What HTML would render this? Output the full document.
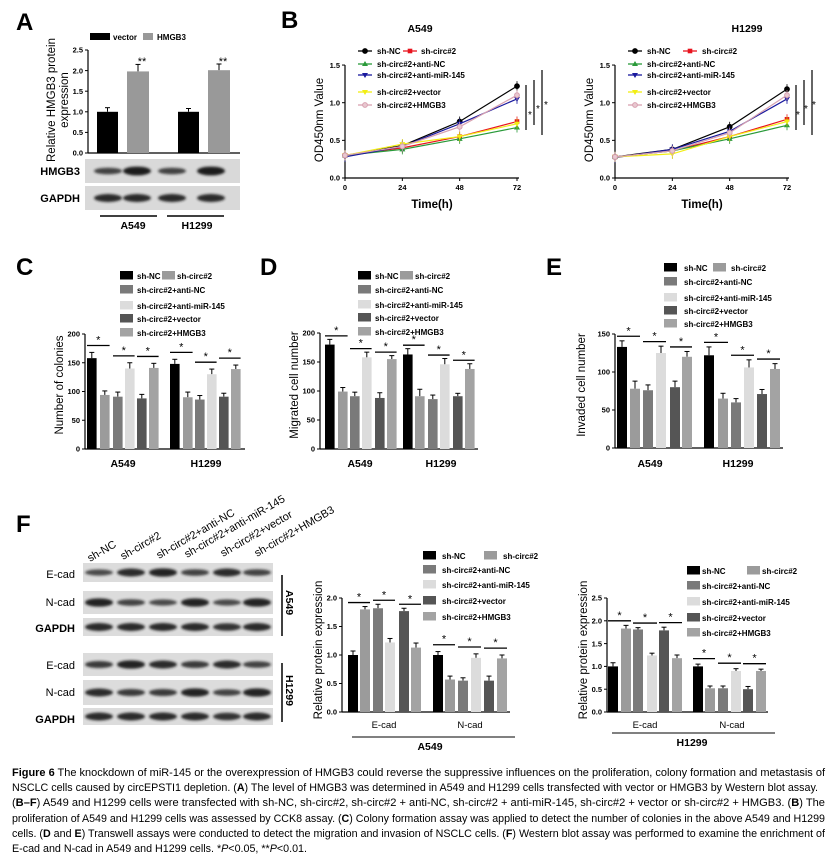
<!DOCTYPE html>
<html><head><meta charset="utf-8"><style>
body{margin:0;background:#fff;width:839px;height:861px;overflow:hidden}
svg{display:block;font-family:"Liberation Sans",Arial,sans-serif}
.lg{font-size:8px;font-weight:bold}
.tk{font-size:7.5px;font-weight:bold}
.at{font-size:11.5px}
.pl{font-size:24px;font-weight:bold}
.cap{font-size:10.6px}
</style></head><body>
<svg id="s" width="839" height="861" viewBox="0 0 839 861" xmlns="http://www.w3.org/2000/svg">
<defs><filter id="bl" x="-20%" y="-50%" width="140%" height="200%"><feGaussianBlur stdDeviation="1.3"/></filter></defs>
<rect width="839" height="861" fill="#fff"/>
<text class="pl" x="16" y="30">A</text>
<text class="pl" x="281" y="28">B</text>
<text class="pl" x="16" y="275">C</text>
<text class="pl" x="260" y="275">D</text>
<text class="pl" x="546" y="275">E</text>
<text class="pl" x="16" y="532">F</text>

<rect x="90" y="33" width="20" height="7" fill="#000"/><text class="lg" x="113" y="40">vector</text>
<rect x="143" y="33" width="10" height="7" fill="#999"/><text class="lg" x="157" y="40">HMGB3</text>
<text class="at" transform="translate(55,100) rotate(-90)" text-anchor="middle">Relative HMGB3 protein</text>
<text class="at" transform="translate(68,100) rotate(-90)" text-anchor="middle">expression</text>
<text x="142" y="65" font-size="11" text-anchor="middle">**</text>
<text x="223" y="65" font-size="11" text-anchor="middle">**</text>
<text x="80" y="175" font-size="11" font-weight="bold" text-anchor="end">HMGB3</text>
<text x="80" y="202" font-size="11" font-weight="bold" text-anchor="end">GAPDH</text>
<line x1="100" y1="216" x2="157" y2="216" stroke="#000" stroke-width="1.5"/>
<line x1="167" y1="216" x2="224" y2="216" stroke="#000" stroke-width="1.5"/>
<text x="133" y="229" font-size="10.5" font-weight="bold" text-anchor="middle">A549</text>
<text x="197" y="229" font-size="10.5" font-weight="bold" text-anchor="middle">H1299</text>

<text x="420" y="32" font-size="10.5" font-weight="bold" text-anchor="middle">A549</text>
<text x="747" y="32" font-size="10.5" font-weight="bold" text-anchor="middle">H1299</text>
<text class="at" transform="translate(323,120) rotate(-90)" text-anchor="middle">OD450nm Value</text>
<text class="at" transform="translate(593,120) rotate(-90)" text-anchor="middle">OD450nm Value</text>
<text x="432" y="208" font-size="11.5" font-weight="bold" text-anchor="middle">Time(h)</text>
<text x="702" y="208" font-size="11.5" font-weight="bold" text-anchor="middle">Time(h)</text>
<g class="lg">
<text x="377" y="54">sh-NC</text><text x="421" y="54">sh-circ#2</text>
<text x="377" y="67">sh-circ#2+anti-NC</text>
<text x="377" y="78">sh-circ#2+anti-miR-145</text>
<text x="377" y="95">sh-circ#2+vector</text>
<text x="377" y="108">sh-circ#2+HMGB3</text>
<text x="647" y="54">sh-NC</text><text x="702" y="54">sh-circ#2</text>
<text x="647" y="67">sh-circ#2+anti-NC</text>
<text x="647" y="78">sh-circ#2+anti-miR-145</text>
<text x="647" y="95">sh-circ#2+vector</text>
<text x="647" y="108">sh-circ#2+HMGB3</text>
</g>
<g font-size="10">
<text x="528" y="118">*</text><text x="536" y="112">*</text><text x="544" y="108">*</text>
<text x="796" y="118">*</text><text x="804" y="112">*</text><text x="812" y="108">*</text>
</g>

<g class="lg">
<text x="137" y="279">sh-NC</text><text x="177" y="279">sh-circ#2</text>
<text x="137" y="293">sh-circ#2+anti-NC</text>
<text x="137" y="309">sh-circ#2+anti-miR-145</text>
<text x="137" y="322">sh-circ#2+vector</text>
<text x="137" y="336">sh-circ#2+HMGB3</text>
<text x="375" y="279">sh-NC</text><text x="415" y="279">sh-circ#2</text>
<text x="375" y="293">sh-circ#2+anti-NC</text>
<text x="375" y="308">sh-circ#2+anti-miR-145</text>
<text x="375" y="321">sh-circ#2+vector</text>
<text x="375" y="335">sh-circ#2+HMGB3</text>
<text x="684" y="271">sh-NC</text><text x="731" y="271">sh-circ#2</text>
<text x="684" y="285">sh-circ#2+anti-NC</text>
<text x="684" y="301">sh-circ#2+anti-miR-145</text>
<text x="684" y="314">sh-circ#2+vector</text>
<text x="684" y="327">sh-circ#2+HMGB3</text>
</g>
<text class="at" transform="translate(63,385) rotate(-90)" text-anchor="middle">Number of colonies</text>
<text class="at" transform="translate(298,385) rotate(-90)" text-anchor="middle">Migrated cell number</text>
<text class="at" transform="translate(585,385) rotate(-90)" text-anchor="middle">Invaded cell number</text>
<g font-size="10.5" font-weight="bold" text-anchor="middle">
<text x="123" y="467">A549</text><text x="206" y="467">H1299</text>
<text x="360" y="467">A549</text><text x="441" y="467">H1299</text>
<text x="650" y="467">A549</text><text x="738" y="467">H1299</text>
</g>

<g font-size="11" text-anchor="end">
<text x="75" y="578">E-cad</text><text x="75" y="606">N-cad</text>
<text x="75" y="632" font-weight="bold">GAPDH</text>
<text x="75" y="669">E-cad</text><text x="75" y="696">N-cad</text>
<text x="75" y="723" font-weight="bold">GAPDH</text>
</g>
<g font-size="11">
<text transform="translate(90,562) rotate(-30)">sh-NC</text>
<text transform="translate(123,560) rotate(-30)">sh-circ#2</text>
<text transform="translate(159,559) rotate(-30)">sh-circ#2+anti-NC</text>
<text transform="translate(187,558) rotate(-30)">sh-circ#2+anti-miR-145</text>
<text transform="translate(223,557) rotate(-30)">sh-circ#2+vector</text>
<text transform="translate(257,557) rotate(-30)">sh-circ#2+HMGB3</text>
</g>
<line x1="282" y1="575" x2="282" y2="636" stroke="#000" stroke-width="1.5"/>
<line x1="282" y1="663" x2="282" y2="722" stroke="#000" stroke-width="1.5"/>
<text transform="translate(286,590) rotate(90)" font-size="10.5" font-weight="bold">A549</text>
<text transform="translate(286,675) rotate(90)" font-size="10.5" font-weight="bold">H1299</text>

<g class="lg">
<text x="442" y="559">sh-NC</text><text x="503" y="559">sh-circ#2</text>
<text x="442" y="573">sh-circ#2+anti-NC</text>
<text x="442" y="588">sh-circ#2+anti-miR-145</text>
<text x="442" y="604">sh-circ#2+vector</text>
<text x="442" y="620">sh-circ#2+HMGB3</text>
<text x="702" y="574">sh-NC</text><text x="762" y="574">sh-circ#2</text>
<text x="702" y="589">sh-circ#2+anti-NC</text>
<text x="702" y="605">sh-circ#2+anti-miR-145</text>
<text x="702" y="621">sh-circ#2+vector</text>
<text x="702" y="636">sh-circ#2+HMGB3</text>
</g>
<text class="at" transform="translate(322,650) rotate(-90)" text-anchor="middle">Relative protein expression</text>
<text class="at" transform="translate(587,650) rotate(-90)" text-anchor="middle">Relative protein expression</text>
<g font-size="9.5" text-anchor="middle">
<text x="384" y="728">E-cad</text><text x="470" y="728">N-cad</text>
<text x="645" y="728">E-cad</text><text x="732" y="728">N-cad</text>
</g>
<line x1="352" y1="737" x2="515" y2="737" stroke="#000"/>
<line x1="612" y1="733" x2="775" y2="733" stroke="#000"/>
<g font-size="10.5" font-weight="bold" text-anchor="middle">
<text x="430" y="750">A549</text><text x="692" y="746">H1299</text>
</g>

<g class="cap">
<text x="12" y="776" textLength="813" lengthAdjust="spacingAndGlyphs"><tspan font-weight="bold">Figure 6</tspan> The knockdown of miR-145 or the overexpression of HMGB3 could reverse the suppressive influences on the proliferation, colony formation and metastasis of</text>
<text x="12" y="791" textLength="806" lengthAdjust="spacingAndGlyphs">NSCLC cells caused by circEPSTI1 depletion. (<tspan font-weight="bold">A</tspan>) The level of HMGB3 was determined in A549 and H1299 cells transfected with vector or HMGB3 by Western blot assay.</text>
<text x="12" y="806" textLength="813" lengthAdjust="spacingAndGlyphs">(<tspan font-weight="bold">B–F</tspan>) A549 and H1299 cells were transfected with sh-NC, sh-circ#2, sh-circ#2 + anti-NC, sh-circ#2 + anti-miR-145, sh-circ#2 + vector or sh-circ#2 + HMGB3. (<tspan font-weight="bold">B</tspan>) The</text>
<text x="12" y="822" textLength="813" lengthAdjust="spacingAndGlyphs">proliferation of A549 and H1299 cells was assessed by CCK8 assay. (<tspan font-weight="bold">C</tspan>) Colony formation assay was applied to detect the number of colonies in the above A549 and H1299</text>
<text x="12" y="837" textLength="813" lengthAdjust="spacingAndGlyphs">cells. (<tspan font-weight="bold">D</tspan> and <tspan font-weight="bold">E</tspan>) Transwell assays were conducted to detect the migration and invasion of NSCLC cells. (<tspan font-weight="bold">F</tspan>) Western blot assay was performed to examine the enrichment of</text>
<text x="12" y="852" textLength="295" lengthAdjust="spacingAndGlyphs">E-cad and N-cad in A549 and H1299 cells. *<tspan font-style="italic">P</tspan>&lt;0.05, **<tspan font-style="italic">P</tspan>&lt;0.01.</text>
</g>
<g id="g"></g>
</svg>
<script>
const G=document.getElementById('g'),NS='http://www.w3.org/2000/svg';
function el(t,a,txt){const e=document.createElementNS(NS,t);for(const k in a)e.setAttribute(k,a[k]);if(txt!==undefined)e.textContent=txt;G.appendChild(e);return e;}
function ln(x1,y1,x2,y2,c,w){el('line',{x1,y1,x2,y2,stroke:c||'#000','stroke-width':w||1});}
function axes(ax,y0,sc,ticks,dec,xEnd){
  const top=y0-ticks[ticks.length-1]*sc;
  ln(ax,top,ax,y0,'#000',1.2);ln(ax,y0,xEnd,y0,'#000',1.2);
  ticks.forEach(v=>{const y=y0-v*sc;ln(ax-3,y,ax,y);el('text',{x:ax-5,y:y+2.7,'text-anchor':'end',class:'tk'},v.toFixed(dec));});
}
const COL=['#000','#9b9b9b','#7a7a7a','#dcdcdc','#555','#a3a3a3'];
function bars(y0,sc,list){list.forEach(b=>{const[x,w,v,e,c]=b;const y=y0-v*sc;
  ln(x+w/2,y,x+w/2,y-e*sc,'#000',1);ln(x+w/2-2.5,y-e*sc,x+w/2+2.5,y-e*sc,'#000',1);
  el('rect',{x,y,width:w,height:v*sc,fill:c});});}
function sig(x1,x2,y){ln(x1,y,x2,y,'#000',1.3);el('text',{x:(x1+x2)/2,y:y-2,'text-anchor':'middle','font-size':'11'},'*');}
function legendBoxes(x,x2,ys,w){el('rect',{x,y:ys[0]-8,width:w,height:8.5,fill:COL[0]});el('rect',{x:x2,y:ys[0]-8,width:w,height:8.5,fill:COL[1]});
  for(let i=1;i<5;i++)el('rect',{x,y:ys[i]-8,width:w,height:8.5,fill:COL[i+1]});}
function group6(y0,sc,xs,w,vals,errs,sigOff){
  const L=xs.map((x,i)=>[x,w,vals[i],errs[i],COL[i]]);bars(y0,sc,L);
  [[0,1],[2,3],[4,5]].forEach(p=>{const m=Math.max(vals[p[0]]+errs[p[0]],vals[p[1]]+errs[p[1]]);sig(xs[p[0]],xs[p[1]]+w,y0-(m+sigOff)*sc);});}

axes(88,153,41.2,[0,0.5,1,1.5,2,2.5],1,240);
bars(153,41.2,[[97,21,1.0,.1,'#000'],[127,22,1.98,.17,'#999'],[178,21,1.0,.08,'#000'],[208,22,2.01,.15,'#999']]);
function blot(x,y,w,h,lanes,ints,bg){el('rect',{x,y,width:w,height:h,fill:bg||'#d9d9d9'});
  lanes.forEach((cx,i)=>el('ellipse',{cx,cy:y+h/2,rx:14,ry:2.2+ints[i]*2.2,fill:'#1a1a1a',filter:'url(#bl)',opacity:0.6+0.4*ints[i]}));}
blot(85,159,155,24,[108,137,172,211],[0.5,1,0.5,1]);
blot(85,186,155,24,[108,137,172,211],[0.8,0.8,0.8,0.8]);

const Bc=['#000','#e8141e','#2a9a3a','#1a1a9e','#f2ee14','#d8a0b0'];
const Bm=['c','s','t','tv','tv','c'];
const dA=[[.3,.43,.75,1.22],[.3,.4,.55,.75],[.3,.38,.52,.67],[.28,.42,.72,1.05],[.3,.45,.55,.72],[.3,.42,.68,1.1]];
const dH=[[.28,.38,.68,1.18],[.28,.36,.55,.78],[.28,.36,.52,.7],[.27,.38,.62,1.05],[.28,.32,.55,.75],[.28,.36,.6,1.1]];
function mk(x,y,k,c){if(k==='c')el('circle',{cx:x,cy:y,r:2.4,fill:c==='#d8a0b0'?'#e8c8d0':c,stroke:c});
 else if(k==='s')el('rect',{x:x-2.3,y:y-2.3,width:4.6,height:4.6,fill:c});
 else if(k==='t')el('polygon',{points:`${x},${y-3} ${x-3},${y+2} ${x+3},${y+2}`,fill:c});
 else el('polygon',{points:`${x},${y+3} ${x-3},${y-2} ${x+3},${y-2}`,fill:c});}
function lineChart(ax,data,lx,lx2){
  const y0=178,sc=75.3,xs=[0,24,48,72].map(t=>ax+t*172/72);
  axes(ax,y0,sc,[0,0.5,1,1.5],1,ax+174);
  [0,24,48,72].forEach((t,i)=>{ln(xs[i],y0,xs[i],y0+3);el('text',{x:xs[i],y:y0+12,'text-anchor':'middle',class:'tk'},String(t));});
  data.forEach((d,i)=>{el('polyline',{points:d.map((v,j)=>xs[j]+','+(y0-v*sc)).join(' '),fill:'none',stroke:Bc[i],'stroke-width':1.2});
    d.forEach((v,j)=>{const y=y0-v*sc;ln(xs[j],y-5,xs[j],y+5,Bc[i]==='#f2ee14'?'#c8c000':Bc[i],0.8);mk(xs[j],y,Bm[i],Bc[i]);});});
  const ly=[51,51,64,75,92,105];
  ly.forEach((y,i)=>{const x=i===1?lx2:lx;ln(x-7,y,x+7,y,Bc[i],1.3);mk(x,y,Bm[i],Bc[i]);});
  ln(ax+181,85,ax+181,130,'#000',1.2);ln(ax+189,80,ax+189,125,'#000',1.2);ln(ax+197,70,ax+197,135,'#000',1.2);
}
lineChart(345,dA,365,410);
lineChart(615,dH,635,690);

axes(85,449,0.575,[0,50,100,150,200],0,245);
group6(449,0.575,[87,100,113,125,137,149],9.6,[158,94,91,140,88,141],[10,7,8,10,7,8],12);
group6(449,0.575,[170,183,195,207,219,231],9.6,[148,90,86,130,91,139],[8,9,7,9,6,7],12);
legendBoxes(120,162,[279,293,309,322,336],13);
axes(320,449,0.58,[0,50,100,150,200],0,478);
group6(449,0.58,[325,338,350,362,375,387],9.6,[180,99,91,158,88,155],[9,7,7,9,9,6],6);
group6(449,0.58,[403,415,428,440,453,465],9.6,[163,91,86,146,91,138],[10,12,7,10,5,9],6);
legendBoxes(358,400,[279,293,308,321,335],13);
axes(615,448,0.76,[0,50,100,150],0,783);
group6(448,0.76,[617,630,643,656,670,682],10,[133,78,76,125,80,120],[8,10,7,9,8,7],6);
group6(448,0.76,[704,718,731,744,757,770],10,[122,65,60,106,71,104],[11,7,5,10,6,7],6);
legendBoxes(664,713,[271,285,301,314,327],13);

const lanes=[99,131,163,195,227,257];
blot(83,563,190,19,lanes,[.4,.8,.9,.5,.8,.5],'#dcdcdc');
blot(83,591,190,23,lanes,[.9,.5,.4,.9,.4,.9],'#dcdcdc');
blot(83,618,190,18,lanes,[.8,.8,.8,.8,.7,.8],'#dcdcdc');
blot(83,653,190,23,lanes,[.6,.9,.8,.6,.8,.5],'#dcdcdc');
blot(83,680,190,25,lanes,[.8,.6,.6,.9,.5,.9],'#dcdcdc');
blot(83,708,190,17,lanes,[.8,.8,.8,.8,.7,.8],'#dcdcdc');

axes(342,712,57,[0,0.5,1,1.5,2],1,510);
group6(712,57,[348,360,373,385,399,411],10,[1.0,1.8,1.82,1.22,1.77,1.13],[.07,.05,.07,.07,.05,.08],.07);
group6(712,57,[433,445,458,471,484,497],10,[1.0,.57,.55,.95,.55,.94],[.06,.06,.05,.07,.08,.06],.12);
legendBoxes(423,484,[559,573,588,604,620],13);
axes(607,712,45.6,[0,0.5,1,1.5,2,2.5],1,768);
group6(712,45.6,[608,621,633,647,659,672],10,[1.0,1.83,1.81,1.24,1.79,1.18],[.08,.07,.04,.05,.07,.07],.1);
group6(712,45.6,[693,705,718,731,743,756],10,[1.0,.52,.52,.9,.5,.9],[.05,.05,.05,.05,.06,.04],.12);
legendBoxes(687,747,[574,589,605,621,636],13);
</script>
</body></html>
